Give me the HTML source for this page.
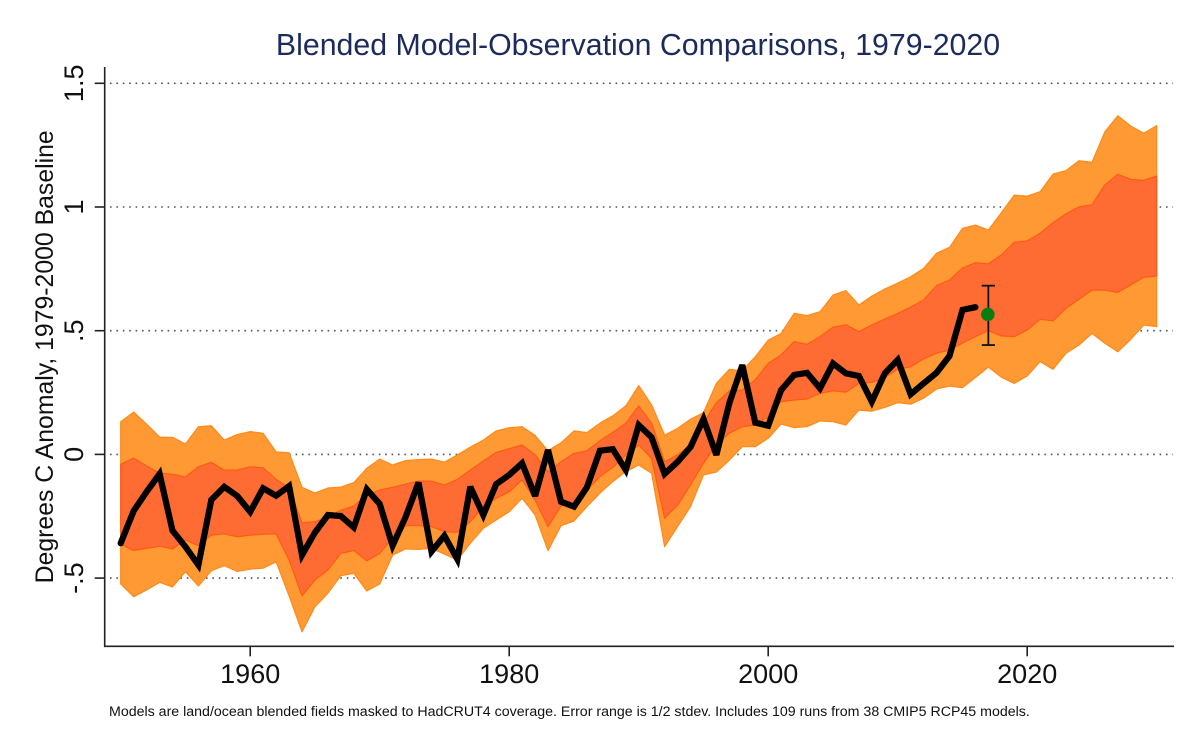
<!DOCTYPE html>
<html lang="en">
<head>
<meta charset="utf-8">
<title>Blended Model-Observation Comparisons, 1979-2020</title>
<style>
html,body{margin:0;padding:0;background:#fff;}
svg{display:block;font-family:"Liberation Sans",Arial,sans-serif;}
</style>
</head>
<body>
<svg id="chart" xmlns="http://www.w3.org/2000/svg" width="1200" height="750" viewBox="0 0 1200 750">
  <rect width="1200" height="750" fill="#fff"/>
  <g id="grid"></g>
  <g id="bands"></g>
  <g id="axes"></g>
  <g id="marks"></g>
  <text x="638" y="55" text-anchor="middle" font-size="30.3" fill="#1c2b5a">Blended Model-Observation Comparisons, 1979-2020</text>
  <text transform="translate(53,356.8) rotate(-90)" text-anchor="middle" font-size="24.8" fill="#111">Degrees C Anomaly, 1979-2000 Baseline</text>
  <text x="109" y="716" font-size="14.2" fill="#111">Models are land/ocean blended fields masked to HadCRUT4 coverage. Error range is 1/2 stdev. Includes 109 runs from 38 CMIP5 RCP45 models.</text>
</svg>
<script>
const startYear = 1950;
const xTicks = [1960, 1980, 2000, 2020];
const yTicks = [1.5, 1, 0.5, 0, -0.5];
const yTickLabels = ['1.5', '1', '.5', '0', '-.5'];

const outerUpper = [.132,.171,.122,.070,.069,.042,.112,.116,.058,.080,.092,.085,.010,.007,-.133,-.156,-.136,-.132,-.114,-.056,-.019,-.043,-.025,-.021,-.019,-.031,-.002,.029,.058,.095,.108,.112,.077,.015,.047,.095,.088,.126,.156,.196,.278,.200,.078,.105,.142,.169,.287,.344,.338,.395,.462,.489,.570,.561,.577,.644,.662,.604,.640,.669,.692,.718,.752,.813,.837,.914,.927,.907,.977,1.048,1.044,1.062,1.133,1.147,1.187,1.181,1.304,1.369,1.327,1.298,1.329];
const innerUpper = [-.040,-.015,-.047,-.076,-.080,-.091,-.050,-.032,-.064,-.063,-.050,-.054,-.101,-.136,-.276,-.272,-.254,-.226,-.209,-.164,-.144,-.133,-.120,-.108,-.108,-.124,-.101,-.063,-.027,.008,.023,.038,-.002,-.070,-.030,.004,.015,.055,.089,.126,.196,.126,-.030,-.002,.038,.127,.209,.257,.260,.301,.368,.402,.456,.445,.476,.514,.524,.496,.523,.547,.570,.595,.624,.682,.705,.753,.775,.770,.806,.857,.863,.894,.937,.972,1.001,1.009,1.089,1.132,1.112,1.108,1.125];
const innerLower = [-.363,-.388,-.380,-.371,-.382,-.346,-.369,-.326,-.321,-.333,-.326,-.323,-.321,-.427,-.572,-.508,-.467,-.400,-.389,-.430,-.400,-.339,-.288,-.288,-.292,-.312,-.315,-.272,-.211,-.177,-.151,-.103,-.184,-.292,-.209,-.198,-.144,-.090,-.052,-.002,.038,-.016,-.258,-.205,-.124,-.035,.038,.086,.112,.119,.152,.213,.220,.224,.247,.257,.252,.287,.291,.310,.344,.354,.386,.409,.422,.450,.476,.500,.479,.476,.503,.546,.540,.591,.627,.664,.664,.655,.685,.716,.721];
const outerLower = [-.524,-.575,-.548,-.517,-.536,-.474,-.532,-.470,-.450,-.473,-.464,-.460,-.434,-.572,-.717,-.616,-.561,-.490,-.481,-.552,-.524,-.407,-.382,-.384,-.380,-.403,-.427,-.359,-.299,-.265,-.232,-.177,-.245,-.389,-.288,-.269,-.211,-.157,-.110,-.070,-.043,-.076,-.373,-.292,-.211,-.083,-.071,-.023,.031,.031,.065,.123,.108,.112,.135,.132,.119,.179,.175,.190,.209,.203,.227,.264,.276,.270,.311,.353,.312,.287,.317,.375,.344,.409,.442,.489,.449,.415,.465,.523,.516];
const observed = [-.359,-.228,-.151,-.079,-.308,-.373,-.447,-.184,-.131,-.168,-.232,-.137,-.167,-.128,-.407,-.316,-.245,-.249,-.295,-.141,-.200,-.369,-.253,-.114,-.393,-.329,-.424,-.131,-.245,-.120,-.083,-.036,-.168,.018,-.191,-.211,-.133,.015,.021,-.063,.119,.069,-.079,-.030,.030,.143,-.002,.208,.361,.128,.116,.260,.321,.330,.267,.368,.328,.317,.213,.328,.382,.243,.287,.330,.398,.584,.595];
const latestYear = 2017;
const latestValue = 0.566;
const latestLow = 0.442;
const latestHigh = 0.682;

const NS = 'http://www.w3.org/2000/svg';
const plotLeft = 104.7, plotRight = 1174, plotTop = 67, plotBottom = 646.3;
const gridLeft = 110, gridRight = 1173;
function xScale(year) { return 120.7 + (year - 1950) * 12.95; }
function yScale(v) { return 454.4 - v * 247.4; }
function make(tag, attrs, parent) {
  const el = document.createElementNS(NS, tag);
  for (const k in attrs) el.setAttribute(k, attrs[k]);
  parent.appendChild(el);
  return el;
}
function yearOf(i) { return startYear + i; }
function toPts(arr) {
  return arr.map(function (v, i) { return xScale(yearOf(i)).toFixed(1) + ',' + yScale(v).toFixed(1); });
}
function bandPoints(up, low) {
  return toPts(up).concat(toPts(low).reverse()).join(' ');
}

const gridG = document.getElementById('grid');
const bandsG = document.getElementById('bands');
const axesG = document.getElementById('axes');
const marksG = document.getElementById('marks');

yTicks.forEach(function (t) {
  const line = make('line', {x1: gridLeft, x2: gridRight, y1: yScale(t), y2: yScale(t), stroke: '#555', 'stroke-width': 1.6, 'stroke-dasharray': '1.6 4.8'}, gridG);
  
  
});

const outerBand = make('polygon', {points: bandPoints(outerUpper, outerLower), fill: '#ff9933', stroke: '#ff8a1c', 'stroke-width': 1.2, 'stroke-linejoin': 'round'}, bandsG);


const innerBand = make('polygon', {points: bandPoints(innerUpper, innerLower), fill: '#ff6c33', stroke: '#ff5a14', 'stroke-width': 1.2, 'stroke-linejoin': 'round'}, bandsG);



const yAxis = make('line', {x1: plotLeft, x2: plotLeft, y1: plotTop, y2: plotBottom + 0.8, stroke: '#222', 'stroke-width': 1.6}, axesG);


const xAxis = make('line', {x1: plotLeft, x2: plotRight, y1: plotBottom, y2: plotBottom, stroke: '#222', 'stroke-width': 1.6}, axesG);



yTicks.forEach(function (t, i) {
  const tick = make('line', {x1: plotLeft - 10, x2: plotLeft, y1: yScale(t), y2: yScale(t), stroke: '#222', 'stroke-width': 1.6}, axesG);
  
  
  const label = make('text', {transform: 'translate(83,' + yScale(t) + ') rotate(-90)', 'text-anchor': 'middle', 'font-size': 27, fill: '#111'}, axesG);
  label.textContent = yTickLabels[i];
  
  
});
xTicks.forEach(function (t) {
  const tick = make('line', {x1: xScale(t), x2: xScale(t), y1: plotBottom, y2: plotBottom + 10, stroke: '#222', 'stroke-width': 1.6}, axesG);
  
  
  const label = make('text', {x: xScale(t), y: 683, 'text-anchor': 'middle', 'font-size': 27, fill: '#111'}, axesG);
  label.textContent = String(t);
  
  
});

const obsLine = make('polyline', {points: toPts(observed).join(' '), fill: 'none', stroke: '#000', 'stroke-width': 6.2, 'stroke-linejoin': 'miter', 'stroke-miterlimit': 3, 'stroke-linecap': 'round'}, marksG);



const ex = xScale(latestYear);
const capHalf = 6.6;
const errStem = make('line', {x1: ex, x2: ex, y1: yScale(latestHigh), y2: yScale(latestLow), stroke: '#111', 'stroke-width': 1.8}, marksG);


const errTop = make('line', {x1: ex - capHalf, x2: ex + capHalf, y1: yScale(latestHigh), y2: yScale(latestHigh), stroke: '#111', 'stroke-width': 1.8}, marksG);


const errBottom = make('line', {x1: ex - capHalf, x2: ex + capHalf, y1: yScale(latestLow), y2: yScale(latestLow), stroke: '#111', 'stroke-width': 1.8}, marksG);


const dot = make('circle', {cx: ex - 0.5, cy: yScale(latestValue), r: 6.8, fill: '#0a7d12'}, marksG);


</script>
</body>
</html>
